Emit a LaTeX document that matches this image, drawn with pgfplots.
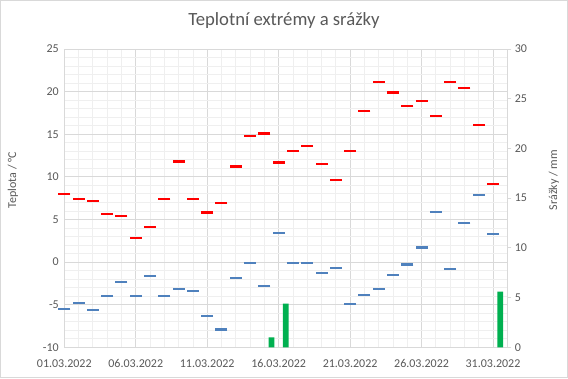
\documentclass[border=0pt]{standalone}
\usepackage{pgfplots}
\pgfplotsset{compat=1.18}
\usepackage{fontspec}
\setmainfont{Carlito}
\definecolor{txt}{HTML}{595959}
\definecolor{gmaj}{HTML}{D9D9D9}
\definecolor{gmin}{HTML}{EFEFEF}
\definecolor{tred}{HTML}{FF0000}
\definecolor{tblue}{HTML}{4F81BD}
\definecolor{pgreen}{HTML}{00B050}
\begin{document}
\begin{tikzpicture}[x=1pt,y=1pt]
\useasboundingbox (0,0) rectangle (568,378);
\fill[white] (0,0) rectangle (568,378);
\draw[gmaj] (0.5,0.5) rectangle (567.5,377.5);
\pgfplotsset{
  common/.style={
    at={(64.3pt,30.7pt)}, anchor=south west, scale only axis,
    width=443pt, height=298.3pt, xmin=1, xmax=32,
    tick style={draw=none},
    tick label style={font=\fontsize{12}{14}\selectfont, text=txt},
    /pgf/number format/assume math mode=true,
  }
}
\begin{axis}[common,
  ymin=-10, ymax=25,
  axis x line*=bottom, axis y line*=left,
  axis line style={gmaj, line width=0.8pt},
  xtick={1,6,11,16,21,26,31}, minor xtick={2,3,4,5,7,8,9,10,12,13,14,15,17,18,19,20,22,23,24,25,27,28,29,30,32},
  xticklabels={01.03.2022,06.03.2022,11.03.2022,16.03.2022,21.03.2022,26.03.2022,31.03.2022},
  ytick={-10,-5,...,25}, minor ytick={-10,...,25},
  grid=both,
  major grid style={gmaj, line width=0.8pt},
  minor grid style={gmin, line width=0.8pt},
  xticklabel style={yshift=-9pt},
  yticklabel style={xshift=-2pt},
]
\addplot[only marks, mark=-, mark size=6pt, mark options={line width=2.3pt, draw=tred}] coordinates {
(1,8.0) (2,7.4) (3,7.2) (4,5.6) (5,5.4) (6,2.8) (7,4.1) (8,7.4) (9,11.8) (10,7.4)
(11,5.8) (12,6.9) (13,11.2) (14,14.8) (15,15.1) (16,11.7) (17,13.0) (18,13.6) (19,11.5) (20,9.6)
(21,13.0) (22,17.7) (23,21.1) (24,19.9) (25,18.3) (26,18.9) (27,17.1) (28,21.1) (29,20.4) (30,16.1) (31,9.2)};
\addplot[only marks, mark=-, mark size=6pt, mark options={line width=2.3pt, draw=tblue}] coordinates {
(1,-5.5) (2,-4.8) (3,-5.6) (4,-4.0) (5,-2.3) (6,-4.0) (7,-1.6) (8,-4.0) (9,-3.2) (10,-3.4)
(11,-6.3) (12,-7.9) (13,-1.9) (14,-0.1) (15,-2.8) (16,3.4) (17,-0.1) (18,-0.1) (19,-1.3) (20,-0.7)
(21,-4.9) (22,-3.9) (23,-3.2) (24,-1.5) (25,-0.3) (26,1.7) (27,5.9) (28,-0.8) (29,4.6) (30,7.9) (31,3.3)};
\end{axis}
\begin{axis}[common,
  ymin=0, ymax=30,
  axis x line=none, axis y line*=right,
  axis line style={gmaj, line width=0.8pt},
  ytick={0,5,...,30},
  ytick style={draw=gmaj, line width=0.8pt},
  tick align=outside, major tick length=4pt,
  yticklabel style={xshift=0pt},
]
\addplot[ybar, bar width=5.7pt, fill=pgreen, draw=none] coordinates {(15.5,1.0) (16.5,4.4) (31.5,5.6)};
\end{axis}
\node[text=txt, font=\fontsize{18.67}{22}\selectfont] at (284,357) {Teplotní extrémy a srážky};
\node[text=txt, font=\fontsize{12}{14}\selectfont, rotate=90] at (13,198) {Teplota / °C};
\node[text=txt, font=\fontsize{12}{14}\selectfont, rotate=90] at (554,198) {Srážky / mm};
\end{tikzpicture}
\end{document}
